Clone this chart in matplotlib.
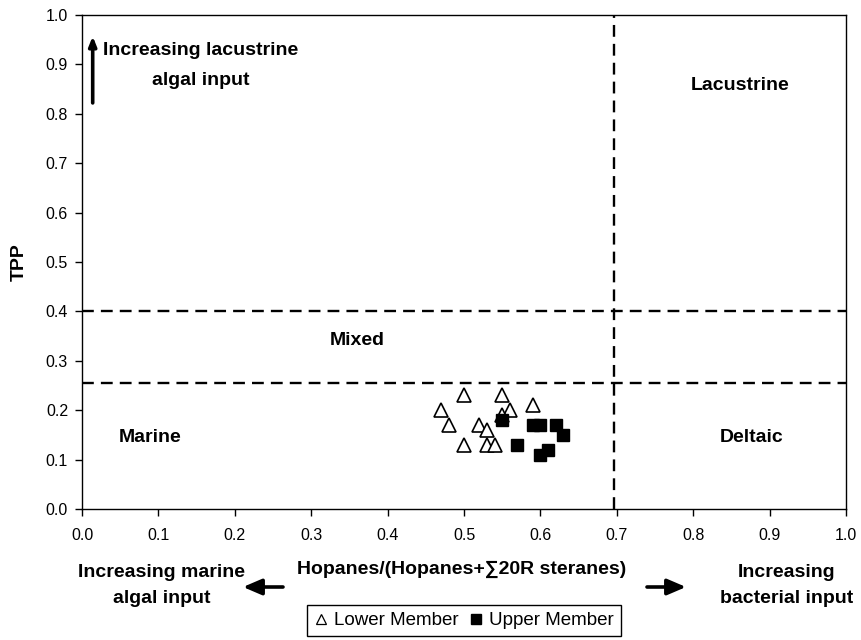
import matplotlib
matplotlib.use("Agg")
import matplotlib.pyplot as plt
from matplotlib.lines import Line2D
from matplotlib.patches import FancyArrowPatch

plt.rcParams['font.family'] = ['Liberation Sans', 'DejaVu Sans']

# Hopanes/(Hopanes+sum 20R steranes) vs TPP
lower_x = [0.50, 0.55, 0.47, 0.56, 0.59, 0.55, 0.48, 0.52, 0.53, 0.50, 0.53, 0.54]
lower_y = [0.23, 0.23, 0.20, 0.20, 0.21, 0.19, 0.17, 0.17, 0.16, 0.13, 0.13, 0.13]
upper_x = [0.55, 0.59, 0.60, 0.62, 0.63, 0.57, 0.61, 0.60]
upper_y = [0.18, 0.17, 0.17, 0.17, 0.15, 0.13, 0.12, 0.11]

# field boundaries
x_boundary = 0.696
y_upper_boundary = 0.40
y_lower_boundary = 0.256

ticks = [round(0.1 * i, 1) for i in range(11)]
tick_labels = [f"{t:.1f}" for t in ticks]

fig = plt.figure(figsize=(8.61, 6.40), dpi=100)
ax = fig.add_axes([82 / 861, 131 / 640, 764 / 861, 494 / 640])

ax.set_xlim(0, 1)
ax.set_ylim(0, 1)
ax.set_xticks(ticks)
ax.set_xticklabels(tick_labels)
ax.set_yticks(ticks)
ax.set_yticklabels(tick_labels)
ax.tick_params(direction='out', length=5, width=1, labelsize=11.5, pad=5,
               colors='black')
ax.tick_params(axis='x', pad=9)
for s in ax.spines.values():
    s.set_linewidth(1.0)
    s.set_color('black')

dash = dict(color='black', lw=1.7, ls=(0, (5, 3.0)))
ax.axvline(x_boundary, **dash)
ax.axhline(y_upper_boundary, **dash)
ax.axhline(y_lower_boundary, **dash)

ax.plot(lower_x, lower_y, ls='none', marker='^', ms=9.5, mfc='white',
        mec='black', mew=1.2, zorder=3)
ax.plot(upper_x, upper_y, ls='none', marker='s', ms=8, mfc='black',
        mec='black', zorder=4)

FS = 14
bold = dict(fontsize=FS, fontweight='bold', ha='center', va='center')
ax.text(0.861, 0.858, "Lacustrine", **bold)
ax.text(0.36, 0.341, "Mixed", **bold)
ax.text(0.089, 0.145, "Marine", **bold)
ax.text(0.877, 0.145, "Deltaic", **bold)
ax.text(0.027, 0.897, "Increasing lacustrine\nalgal input", ha='left',
        va='center', fontsize=FS, fontweight='bold', linespacing=2.0,
        multialignment='center')
ax.annotate("", xy=(0.014, 0.957), xytext=(0.014, 0.822),
            arrowprops=dict(arrowstyle='-|>,head_length=0.55,head_width=0.22',
                            color='black', lw=2.6, shrinkA=0, shrinkB=0))

ax.set_ylabel("TPP", fontsize=FS, fontweight='bold')
ax.yaxis.set_label_coords(-0.0707, 0.5)

# labels under the x axis
fig.text(462 / 861, 1 - 569 / 640, "Hopanes/(Hopanes+\u221120R steranes)",
         **bold)
fig.text(162 / 861, 1 - 585.5 / 640, "Increasing marine\nalgal input",
         linespacing=1.75, **bold)
fig.text(787 / 861, 1 - 585.5 / 640, "Increasing\nbacterial input",
         linespacing=1.75, **bold)
arrow = dict(arrowstyle='-|>,head_length=0.7,head_width=0.3', color='black',
             lw=2.6, mutation_scale=16, shrinkA=0, shrinkB=0)
fig.add_artist(FancyArrowPatch((283 / 861, 1 - 587 / 640),
                               (243 / 861, 1 - 587 / 640),
                               transform=fig.transFigure, **arrow))
fig.add_artist(FancyArrowPatch((647 / 861, 1 - 587 / 640),
                               (686 / 861, 1 - 587 / 640),
                               transform=fig.transFigure, **arrow))

handles = [
    Line2D([], [], ls='none', marker='^', ms=7.5, mfc='white', mec='black',
           mew=0.9),
    Line2D([], [], ls='none', marker='s', ms=7.5, mfc='black', mec='black'),
]
leg = fig.legend(handles, ["Lower Member", "Upper Member"], ncol=2,
                 loc='center', bbox_to_anchor=(464 / 861, 1 - 620.5 / 640),
                 fontsize=13.5, frameon=True, fancybox=False,
                 edgecolor='black', framealpha=1, handlelength=0.7,
                 handletextpad=0.35, columnspacing=0.6, borderpad=0.35,
                 borderaxespad=0)
leg.get_frame().set_linewidth(1.0)

fig.savefig("out.png", dpi=100, facecolor='white')
